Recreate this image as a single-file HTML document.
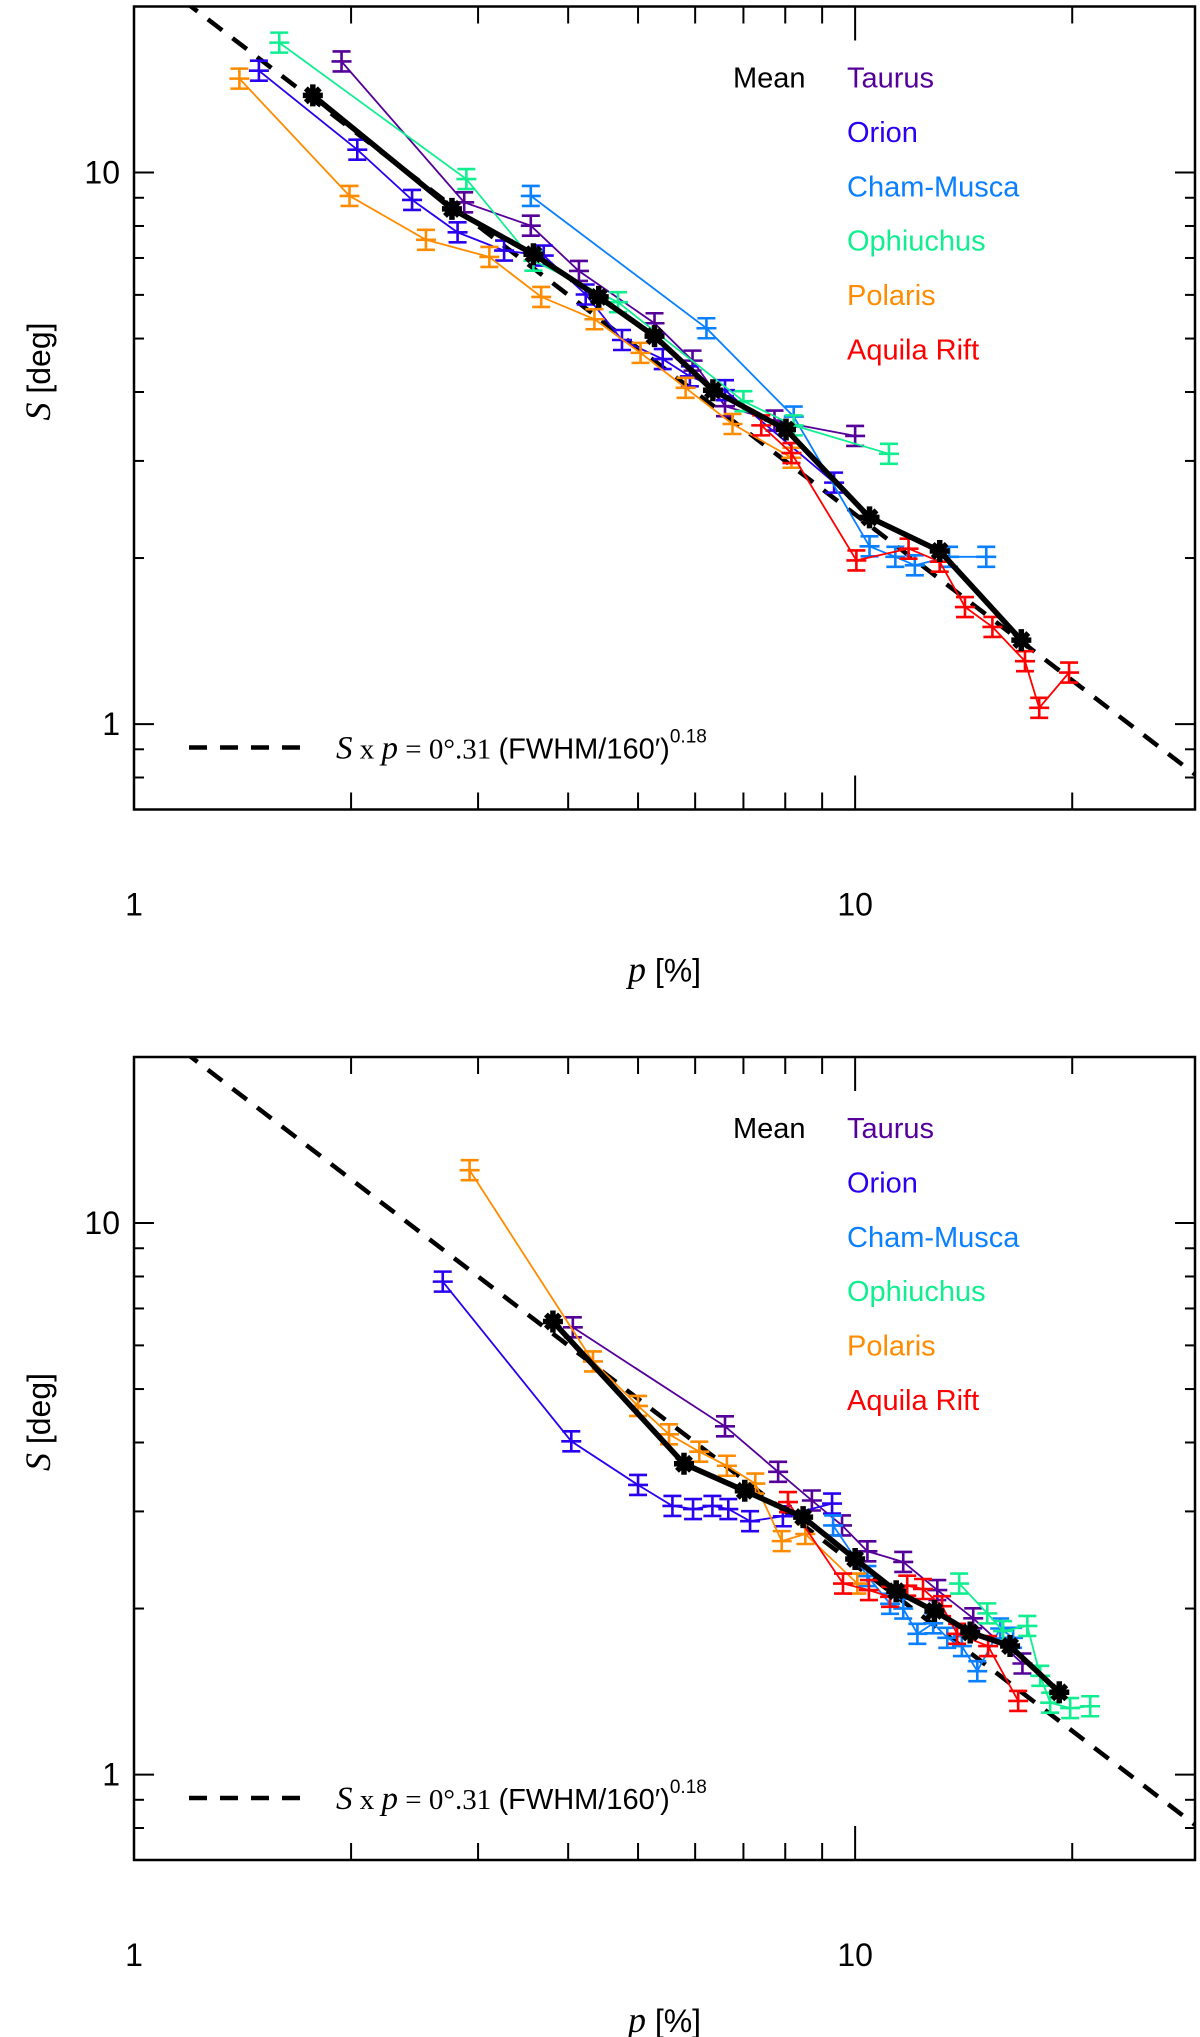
<!DOCTYPE html>
<html><head><meta charset="utf-8"><style>
html,body{margin:0;padding:0;background:#fff;}
svg{display:block;}
text{font-family:"Liberation Sans",sans-serif;}
</style></head>
<body>
<svg id="fig" width="1200" height="2037" viewBox="0 0 1200 2037" xmlns="http://www.w3.org/2000/svg"></svg>
<script>
// ---------- data: top panel ----------
const topMeanP = [1.77,2.76,3.58,4.41,5.27,6.35,8.02,10.47,13.1,17.0];
const topMeanS = [13.8,8.59,7.11,5.95,5.05,4.03,3.42,2.37,2.06,1.42];
const topTaurusP = [1.94,2.87,3.55,4.14,5.27,5.95,6.60,7.73,10.0];
const topTaurusS = [15.9,8.83,8.01,6.63,5.33,4.56,3.77,3.55,3.33];
const topOrionP = [1.49,2.04,2.43,2.81,3.26,3.70,4.23,4.75,5.41,5.90,6.60,9.35];
const topOrionS = [15.3,11.0,8.92,7.79,7.22,7.07,6.01,4.97,4.59,4.27,4.03,2.74];
const topChamP = [3.55,6.22,8.22,10.47,11.37,12.1,13.5,15.2];
const topChamS = [9.07,5.22,3.61,2.10,2.01,1.94,2.01,2.01];
const topOphP = [1.59,2.89,3.58,4.69,7.00,8.22,11.14];
const topOphS = [17.2,9.73,6.92,5.82,3.85,3.48,3.09];
const topPolP = [1.40,1.99,2.54,3.11,3.67,4.35,5.04,5.82,6.76,8.16];
const topPolS = [14.8,9.07,7.55,7.03,5.95,5.42,4.71,4.07,3.50,3.04];
const topAqP = [7.41,8.16,10.04,11.86,13.1,14.2,15.5,17.2,18.0,19.8];
const topAqS = [3.48,3.10,1.98,2.08,1.97,1.63,1.50,1.30,1.07,1.24];
// ---------- data: bottom panel ----------
const botMeanP = [3.81,5.79,7.03,8.47,10.0,11.4,12.88,14.44,16.4,19.19];
const botMeanS = [6.63,3.66,3.27,2.93,2.46,2.15,1.98,1.81,1.71,1.41];
const botTaurusP = [4.06,6.60,7.82,8.71,9.59,10.4,11.66,13.0,14.58,17.06];
const botTaurusS = [6.47,4.28,3.54,3.14,2.83,2.54,2.43,2.16,1.92,1.59];
const botOrionP = [2.68,4.04,5.00,5.58,5.96,6.34,6.67,7.15,7.94,9.29];
const botOrionS = [7.83,4.02,3.35,3.07,3.03,3.07,3.03,2.88,2.94,3.10];
const botChamP = [9.32,10.4,11.18,11.66,12.2,12.83,13.42,14.06,14.77,15.89,16.56];
const botChamS = [2.83,2.29,2.04,2.00,1.80,1.88,1.77,1.71,1.54,1.84,1.77];
const botOphP = [13.94,15.25,16.04,17.33,18.06,18.64,19.87,21.18];
const botOphS = [2.22,1.96,1.82,1.86,1.51,1.35,1.32,1.33];
const botPolP = [2.92,4.33,5.00,5.52,6.08,6.64,7.27,7.91,8.53,10.07];
const botPolS = [12.47,5.61,4.66,4.14,3.85,3.63,3.37,2.65,2.73,2.22];
const botAqP = [8.07,9.62,10.45,11.18,11.81,12.42,13.2,13.85,15.29,16.83];
const botAqS = [3.12,2.22,2.16,2.10,2.20,2.17,2.02,1.80,1.71,1.36];
// ---------- axes ----------
const xTickMajor = [1,10];
const xTickMinor = [2,3,4,5,6,7,8,9,20];
const yTickMajor = [1,10];
const yTickMinor = [0.7,0.8,0.9,2,3,4,5,6,7,8,9,20];
const xMin = 1, xMax = 29.6, yMin = 0.7, yMax = 20;
const fitCoef = 24; // S = fitCoef / p
const legendNames = ["Taurus","Orion","Cham-Musca","Ophiuchus","Polaris","Aquila Rift"];

const colors = ["#550099","#2a00f0","#0a80ff","#10ee90","#ff8c00","#ff0000"];
const NS = "http://www.w3.org/2000/svg";
const svg = document.getElementById('fig');
const L = 134, R = 1195;

function mk(tag, attrs, parent){
  const e = document.createElementNS(NS, tag);
  for (const k in attrs) e.setAttribute(k, attrs[k]);
  (parent||svg).appendChild(e);
  return e;
}

function panel(top, key, series, mean){
  const H = 803, B = top + H;
  const X = p => L + (R-L)*(Math.log10(p)-Math.log10(xMin))/(Math.log10(xMax)-Math.log10(xMin));
  const Y = s => top + H*(Math.log10(yMax)-Math.log10(s))/(Math.log10(yMax)-Math.log10(yMin));
  const g = mk('g', {});
  
  
  const cid = 'clip-' + key;
  const cp = mk('clipPath', {id: cid}, g);
  mk('rect', {x:L, y:top, width:R-L, height:H}, cp);

  const fr = mk('rect', {x:L, y:top, width:R-L, height:H, fill:'none', stroke:'#000', 'stroke-width':2.5}, g);
  
  

  const tg = mk('g', {stroke:'#000', 'stroke-width':2}, g);
  
  
  xTickMajor.forEach(v => { const x = X(v);
    mk('line', {x1:x, x2:x, y1:B, y2:B-34}, tg); mk('line', {x1:x, x2:x, y1:top, y2:top+34}, tg); });
  xTickMinor.forEach(v => { const x = X(v);
    mk('line', {x1:x, x2:x, y1:B, y2:B-17}, tg); mk('line', {x1:x, x2:x, y1:top, y2:top+17}, tg); });
  yTickMajor.forEach(v => { const y = Y(v);
    mk('line', {x1:L, x2:L+20, y1:y, y2:y}, tg); mk('line', {x1:R, x2:R-20, y1:y, y2:y}, tg); });
  yTickMinor.forEach(v => { const y = Y(v);
    mk('line', {x1:L, x2:L+10, y1:y, y2:y}, tg); mk('line', {x1:R, x2:R-10, y1:y, y2:y}, tg); });

  xTickMajor.forEach(v => {
    const t = mk('text', {x:X(v), y:B+106, 'font-size':32, 'text-anchor':'middle'}, g);
    t.textContent = String(v);
    
    
  });
  yTickMajor.forEach(v => {
    const t = mk('text', {x:L-14, y:Y(v)+11, 'font-size':32, 'text-anchor':'end'}, g);
    t.textContent = String(v);
    
    
  });

  const xt = mk('text', {x:(L+R)/2 + 0, y:B+172, 'font-size':32, 'text-anchor':'middle'}, g);
  xt.innerHTML = '<tspan font-family="Liberation Serif, serif" font-style="italic" font-size="36">p</tspan> [%]';
  
  
  const yc = top + 365;
  const yt = mk('text', {x:0, y:0, 'font-size':32, 'text-anchor':'middle', transform:'translate(50,'+yc+') rotate(-90)'}, g);
  yt.innerHTML = '<tspan font-family="Liberation Serif, serif" font-style="italic" font-size="36">S</tspan> [deg]';
  
  

  const dl = mk('line', {x1:X(xMin), y1:Y(fitCoef/xMin), x2:X(xMax), y2:Y(fitCoef/xMax), stroke:'#000', 'stroke-width':4.5, 'stroke-dasharray':'18 13', 'clip-path':'url(#'+cid+')'}, g);
  
  

  series.forEach((s, i) => {
    const sg = mk('g', {stroke:colors[i], fill:'none', 'clip-path':'url(#'+cid+')'}, g);
    
    
    const pts = s.p.map((p, j) => X(p).toFixed(1) + ',' + Y(s.s[j]).toFixed(1)).join(' ');
    mk('polyline', {points:pts, 'stroke-width':1.8}, sg);
    s.p.forEach((p, j) => {
      const x = X(p), y = Y(s.s[j]);
      const m = mk('path', {d:'M'+(x-9)+' '+(y-10)+'h18M'+(x-9)+' '+(y+10)+'h18M'+x+' '+(y-10)+'v20M'+(x-10)+' '+y+'h20', 'stroke-width':2.6}, sg);
      
      
    });
  });

  const mg = mk('g', {stroke:'#000', fill:'none'}, g);
  
  
  mk('polyline', {points: mean.p.map((p,j)=>X(p).toFixed(1)+','+Y(mean.s[j]).toFixed(1)).join(' '), 'stroke-width':5.5, 'stroke-linejoin':'round'}, mg);
  mean.p.forEach((p, j) => {
    const x = X(p), y = Y(mean.s[j]);
    const m = mk('path', {d:'M'+(x-10)+' '+y+'h20M'+x+' '+(y-11)+'v22M'+(x-7)+' '+(y-7)+'l14 14M'+(x+7)+' '+(y-7)+'l-14 14', 'stroke-width':5.5}, mg);
    
    
  });

  const lg = mk('g', {'font-size':29}, g);
  
  
  const base = top + 81;
  const mt = mk('text', {x:733, y:base, fill:'#000'}, lg);
  mt.textContent = 'Mean';
  
  
  legendNames.forEach((n, i) => {
    const t = mk('text', {x:847, y:base + i*54.4, fill:colors[i]}, lg);
    t.textContent = n;
    
    
  });

  const fy = top + 741;
  const fl = mk('line', {x1:189, x2:312, y1:fy, y2:fy, stroke:'#000', 'stroke-width':4.5, 'stroke-dasharray':'18 13'}, g);
  
  
  const ft = mk('text', {x:336, y:fy+11, 'font-size':29}, g);
  ft.innerHTML = '<tspan font-family="Liberation Serif, serif" font-style="italic" font-size="33">S</tspan><tspan font-family="Liberation Serif, serif"> x </tspan><tspan font-family="Liberation Serif, serif" font-style="italic" font-size="33">p</tspan><tspan font-family="Liberation Serif, serif"> = 0°.31 </tspan>(FWHM/160′)<tspan dy="-16" font-size="19">0.18</tspan>';
  
  
}

panel(6.5, 'top', [
  {p:topTaurusP, s:topTaurusS},{p:topOrionP, s:topOrionS},{p:topChamP, s:topChamS},
  {p:topOphP, s:topOphS},{p:topPolP, s:topPolS},{p:topAqP, s:topAqS}
], {p:topMeanP, s:topMeanS});
panel(1057, 'bottom', [
  {p:botTaurusP, s:botTaurusS},{p:botOrionP, s:botOrionS},{p:botChamP, s:botChamS},
  {p:botOphP, s:botOphS},{p:botPolP, s:botPolS},{p:botAqP, s:botAqS}
], {p:botMeanP, s:botMeanS});
</script>
</body></html>
